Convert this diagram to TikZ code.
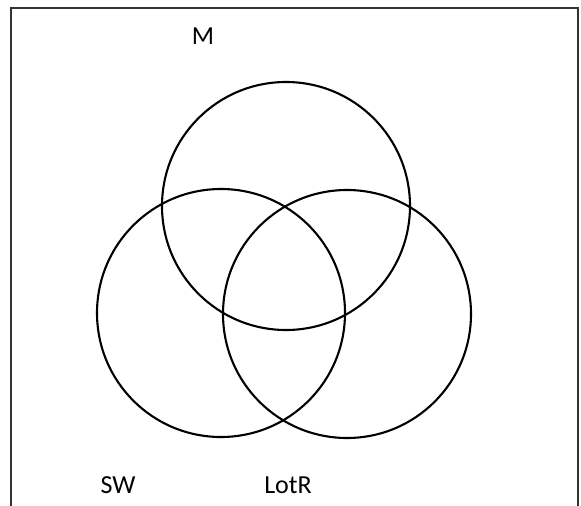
\documentclass[tikz,border=0pt]{standalone}
\usepackage{fontspec}
\setmainfont{Carlito}
\begin{document}
\begin{tikzpicture}[x=1pt,y=-1pt,
  setcircle/.style={draw=black,line width=2.1pt,circle,minimum size=248pt,inner sep=0pt},
  setlabel/.style={font=\fontsize{26}{30}\selectfont,inner sep=0pt}]
\useasboundingbox (0,0) rectangle (581,506);
\fill[white] (0,0) rectangle (581,506);
\draw[line width=1.2pt,black!80] (11,506) -- (11,8) -- (578,8) -- (578,506);
\node[setcircle] (m) at (286,206) {};
\node[setcircle] (sw) at (221,313) {};
\node[setcircle] (lotr) at (347,314) {};
\node[setlabel] (lm) at (203,36) {M};
\node[setlabel] (lsw) at (118,485) {SW};
\node[setlabel] (llotr) at (288,485) {LotR};
\end{tikzpicture}
\end{document}
